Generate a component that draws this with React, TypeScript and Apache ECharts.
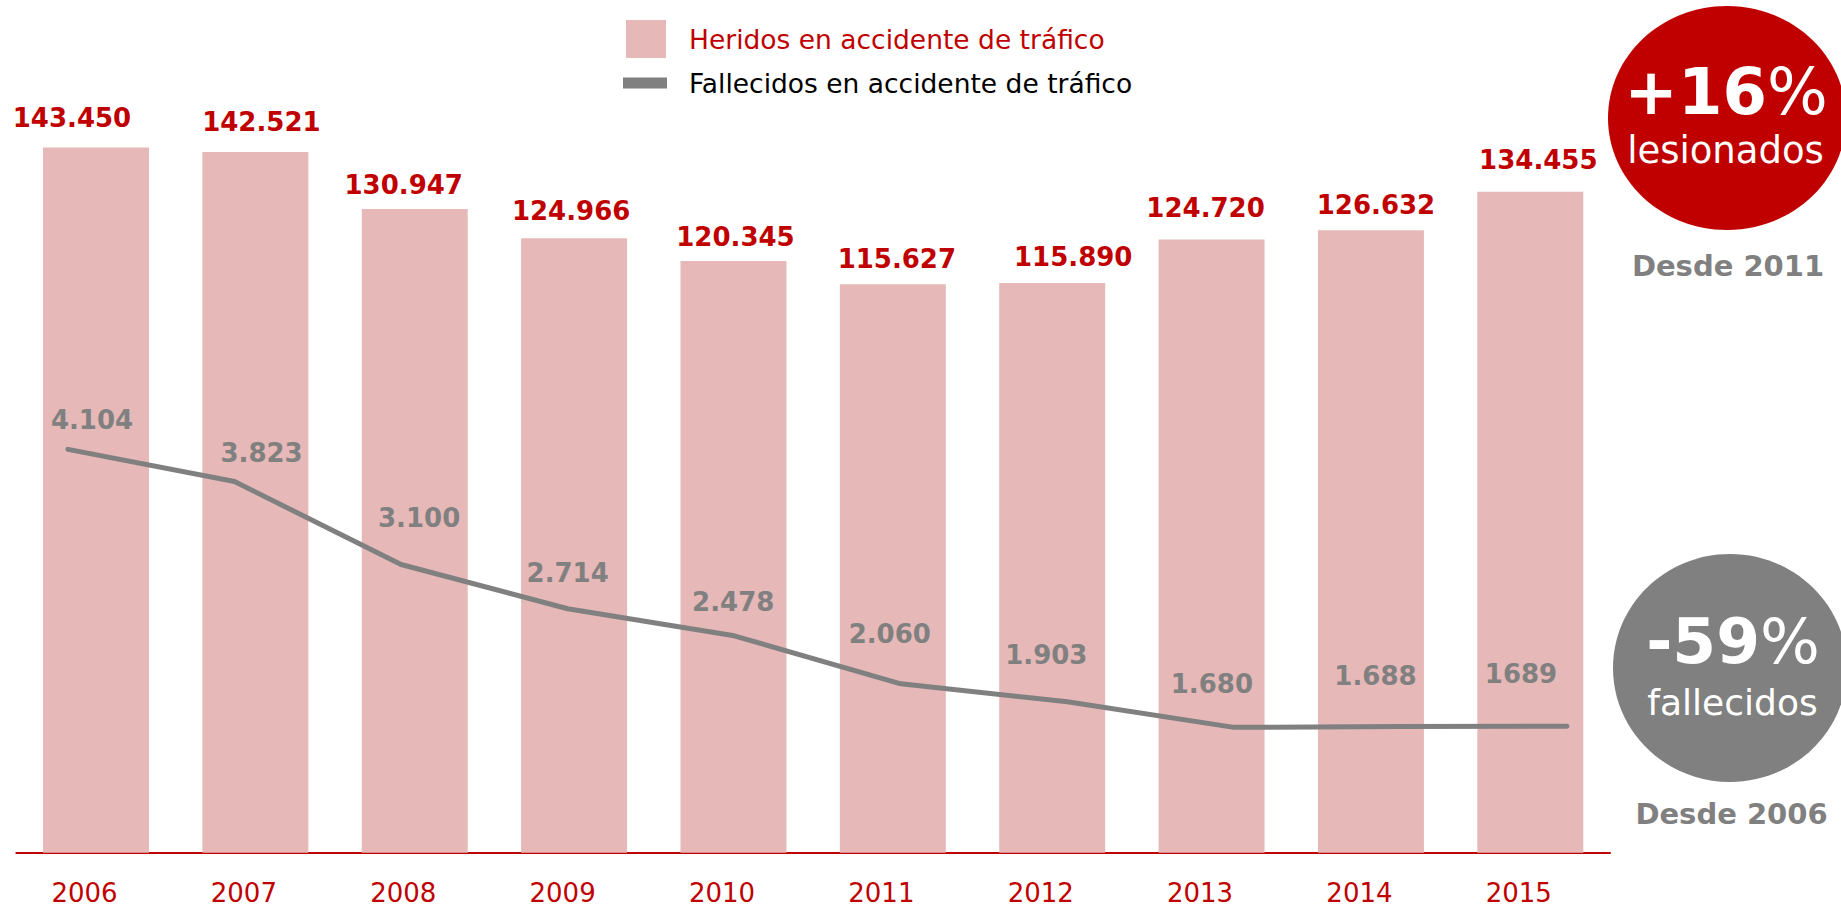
import React, { useEffect, useRef } from 'react';
import * as echarts from 'echarts';

// ---- data ----
const years = ['2006', '2007', '2008', '2009', '2010', '2011', '2012', '2013', '2014', '2015'];
const heridos = [143450, 142521, 130947, 124966, 120345, 115627, 115890, 124720, 126632, 134455];
const fallecidos = [4104, 3823, 3100, 2714, 2478, 2060, 1903, 1680, 1688, 1689];
const fallecidosLabelText = ['4.104', '3.823', '3.100', '2.714', '2.478', '2.060', '1.903', '1.680', '1.688', '1689'];
const seriesBarName = 'Heridos en accidente de tráfico';
const seriesLineName = 'Fallecidos en accidente de tráfico';
const calloutTop = { big: '+16', pct: '%', word: 'lesionados', since: 'Desde 2011' };
const calloutBottom = { big: '-59', pct: '%', word: 'fallecidos', since: 'Desde 2006' };

// ---- label nudges (styling only) ----
const barLabelNudge = [[-24, -2], [6, -3], [-11, 3], [-3, 0], [2, 3], [4, 2], [21, 1], [-6, -5], [5, 2], [8, -5]];
const lineLabelNudge = [[24, -16], [27, -15], [18, -33], [0, -22], [-1, -20], [-11, -36], [-21, -33], [-22, -30], [-25, -37], [-46, -39]];

const FONT = "'DejaVu Sans', Verdana, sans-serif";
const RED = '#C00000';
const PINK = '#E6B8B7';
const GRAY = '#808080';

const fmtThousands = (v: number) => String(v).replace(/\B(?=(\d{3})+(?!\d))/g, '.');

export default function App() {
  const ref = useRef<HTMLDivElement>(null);
  useEffect(() => {
    const chart = echarts.init(ref.current as HTMLDivElement, null, { renderer: 'svg' });
    const option: any = {
      animation: false,
      textStyle: { fontFamily: FONT },
      legend: [
        {
          data: [{ name: seriesBarName, icon: 'rect' }],
          left: 626,
          top: 20,
          padding: 0,
          itemWidth: 40,
          itemHeight: 38,
          selectedMode: false,
          textStyle: { color: RED, fontSize: 26.5, fontFamily: FONT, lineHeight: 30, padding: [0, 0, 8, 18] },
        },
        {
          data: [{ name: seriesLineName, icon: 'rect' }],
          left: 623,
          top: 66.5,
          padding: 0,
          itemWidth: 44,
          itemHeight: 11,
          selectedMode: false,
          textStyle: { color: '#000000', fontSize: 26.5, fontFamily: FONT, lineHeight: 30, padding: [0, 0, 3, 17] },
        },
      ],
      grid: [
        { left: 16.3, right: 231, top: 115.3, bottom: 54.3 },
        { left: 68, right: 274, top: 117.2, bottom: 44.3 },
      ],
      xAxis: [
        {
          type: 'category',
          gridIndex: 0,
          data: years,
          axisLine: { lineStyle: { color: RED, width: 2 } },
          axisTick: { show: false },
          axisLabel: { color: RED, fontSize: 26, fontFamily: FONT, margin: 27, padding: [0, 23, 0, 0] },
        },
        { type: 'category', gridIndex: 1, data: years, boundaryGap: false, show: false },
      ],
      yAxis: [
        { type: 'value', gridIndex: 0, min: 0, max: 150000, show: false },
        { type: 'value', gridIndex: 1, min: 500, max: 7000, show: false },
      ],
      series: [
        {
          name: seriesBarName,
          type: 'bar',
          xAxisIndex: 0,
          yAxisIndex: 0,
          barWidth: '66.5%',
          itemStyle: { color: PINK },
          data: heridos.map((v, i) => ({ value: v, label: { offset: barLabelNudge[i] } })),
          label: {
            show: true,
            position: 'top',
            distance: 14,
            color: RED,
            fontWeight: 'bold',
            fontSize: 26,
            lineHeight: 26,
            fontFamily: FONT,
            formatter: (p: any) => fmtThousands(p.value),
          },
        },
        {
          name: seriesLineName,
          type: 'line',
          xAxisIndex: 1,
          yAxisIndex: 1,
          symbol: 'circle',
          symbolSize: 1,
          showSymbol: true,
          color: GRAY,
          itemStyle: { color: GRAY },
          lineStyle: { color: GRAY, width: 5, cap: 'round', join: 'round' },
          z: 3,
          data: fallecidos.map((v, i) => ({ value: v, label: { offset: lineLabelNudge[i] } })),
          label: {
            show: true,
            position: 'top',
            distance: 0,
            color: GRAY,
            fontWeight: 'bold',
            fontSize: 26,
            lineHeight: 26,
            fontFamily: FONT,
            formatter: (p: any) => fallecidosLabelText[p.dataIndex],
          },
        },
      ],
      graphic: [
        { type: 'ellipse', shape: { cx: 1727, cy: 118, rx: 119, ry: 112 }, style: { fill: RED } },
        {
          type: 'text',
          x: 1726,
          y: 92,
          style: {
            text: `{b|${calloutTop.big}}{r|${calloutTop.pct}}`,
            align: 'center',
            verticalAlign: 'middle',
            rich: {
              b: { fontSize: 64, fontWeight: 'bold', fill: '#ffffff', fontFamily: FONT },
              r: { fontSize: 64, fill: '#ffffff', fontFamily: FONT },
            },
          },
        },
        {
          type: 'text',
          x: 1725.5,
          y: 150,
          style: { text: calloutTop.word, fill: '#ffffff', fontSize: 37, fontFamily: FONT, align: 'center', verticalAlign: 'middle' },
        },
        {
          type: 'text',
          x: 1728,
          y: 266,
          style: { text: calloutTop.since, fill: GRAY, fontSize: 29, fontWeight: 'bold', fontFamily: FONT, align: 'center', verticalAlign: 'middle' },
        },
        { type: 'ellipse', shape: { cx: 1730, cy: 668, rx: 117, ry: 114 }, style: { fill: GRAY } },
        {
          type: 'text',
          x: 1733,
          y: 641,
          style: {
            text: `{b|${calloutBottom.big}}{r|${calloutBottom.pct}}`,
            align: 'center',
            verticalAlign: 'middle',
            rich: {
              b: { fontSize: 63, fontWeight: 'bold', fill: '#ffffff', fontFamily: FONT },
              r: { fontSize: 63, fill: '#ffffff', fontFamily: FONT },
            },
          },
        },
        {
          type: 'text',
          x: 1732.5,
          y: 702,
          style: { text: calloutBottom.word, fill: '#ffffff', fontSize: 36, fontFamily: FONT, align: 'center', verticalAlign: 'middle' },
        },
        {
          type: 'text',
          x: 1731.5,
          y: 814,
          style: { text: calloutBottom.since, fill: GRAY, fontSize: 29, fontWeight: 'bold', fontFamily: FONT, align: 'center', verticalAlign: 'middle' },
        },
      ],
    };
    chart.setOption(option);
    return () => {
      chart.dispose();
    };
  }, []);
  return (
    <div
      ref={ref}
      style={{ position: 'absolute', left: 0, top: 0, width: 1841, height: 907, background: '#ffffff' }}
    />
  );
}
